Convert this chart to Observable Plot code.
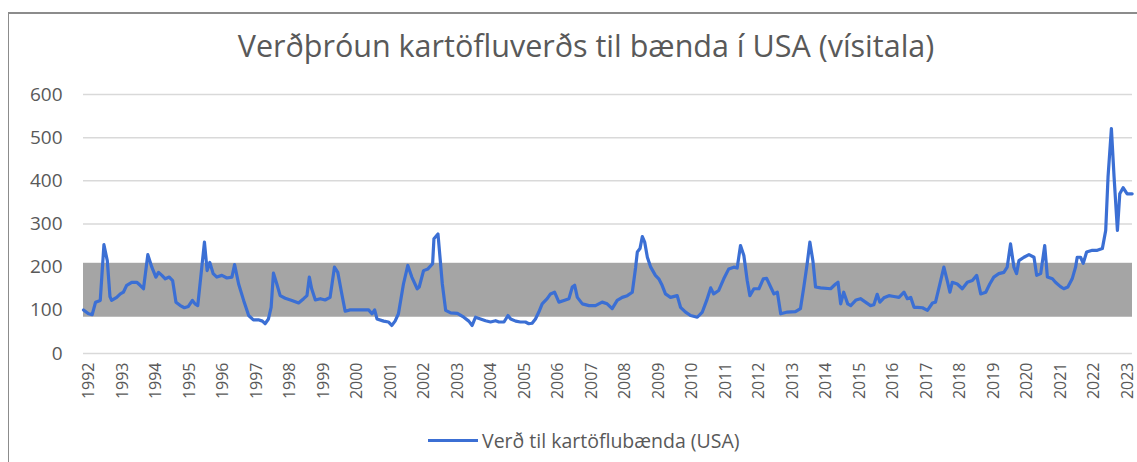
<!DOCTYPE html>
<html>
<head>
<meta charset="utf-8">
<script src="https://cdn.jsdelivr.net/npm/d3@7"></script>
<script src="https://cdn.jsdelivr.net/npm/@observablehq/plot@0.6"></script>
<style>
  html, body { margin: 0; padding: 0; background: #fff; }
  #wrap { position: relative; width: 1137px; height: 462px; overflow: hidden; font-family: "Open Sans", sans-serif; }
  #frameTop { position: absolute; left: 8px; top: 12px; width: 1129px; height: 0; border-top: 2px solid #8c8c8c; }
  #frameLeft { position: absolute; left: 8px; top: 12px; width: 0; height: 450px; border-left: 1px solid #8c8c8c; }
  #title { position: absolute; top: 24px; left: 586px; transform: translateX(-50%); white-space: nowrap;
           font-size: 30.5px; color: #595959; font-weight: 400; }
  #chart { position: absolute; left: 0; top: 0; }
  #legend { position: absolute; top: 427px; left: 428px; display: flex; align-items: center; font-size: 19.5px; color: #595959; white-space: nowrap; }
  #legend .sw { width: 50px; height: 3px; background: #3b6fd4; margin-right: 4px; }
</style>
</head>
<body>
<div id="wrap">
  <div id="frameTop"></div>
  <div id="frameLeft"></div>
  <div id="chart"></div>
  <div id="title">Verðþróun kartöfluverðs til bænda í USA (vísitala)</div>
  <div id="legend"><div class="sw"></div><span>Verð til kartöflubænda (USA)</span></div>
</div>
<script>
// decimal year of each reading
const dates = [
  1992.00,1992.15,1992.26,1992.36,1992.50,1992.61,1992.71,1992.79,1992.84,1992.99,
  1993.10,1993.19,1993.29,1993.44,1993.59,1993.69,1993.79,1993.92,
  1994.04,1994.16,1994.24,1994.34,1994.44,1994.56,1994.66,1994.76,1994.89,
  1995.01,1995.13,1995.25,1995.33,1995.41,1995.61,1995.69,1995.77,1995.87,1995.98,
  1996.13,1996.28,1996.43,1996.51,1996.63,1996.78,1996.93,
  1997.07,1997.22,1997.34,1997.42,1997.52,1997.60,1997.67,1997.77,1997.87,
  1998.02,1998.22,1998.42,1998.57,1998.67,1998.74,1998.81,1998.92,
  1999.07,1999.21,1999.36,1999.49,1999.59,1999.71,1999.81,1999.96,
  2000.21,2000.51,2000.61,2000.69,2000.76,2000.96,
  2001.10,2001.20,2001.30,2001.40,2001.55,2001.68,2001.80,2001.96,
  2002.02,2002.15,2002.28,2002.42,2002.46,2002.58,2002.71,2002.81,2002.96,
  2003.16,2003.35,2003.50,2003.60,2003.70,2003.85,
  2004.00,2004.15,2004.30,2004.40,2004.55,2004.67,2004.75,2004.90,
  2005.04,2005.19,2005.29,2005.39,2005.49,2005.59,2005.69,2005.84,2005.94,
  2006.06,2006.19,2006.34,2006.49,2006.59,2006.66,2006.74,2006.89,
  2007.09,2007.28,2007.48,2007.63,2007.78,2007.93,
  2008.08,2008.23,2008.38,2008.48,2008.53,2008.61,2008.68,2008.75,2008.83,2008.93,
  2009.07,2009.17,2009.27,2009.37,2009.52,2009.72,2009.82,2009.97,
  2010.12,2010.32,2010.47,2010.60,2010.72,2010.81,2010.96,
  2011.11,2011.26,2011.41,2011.51,2011.61,2011.71,2011.81,2011.89,
  2012.01,2012.16,2012.29,2012.39,2012.51,2012.61,2012.71,2012.81,
  2013.01,2013.25,2013.40,2013.50,2013.60,2013.68,2013.77,2013.85,
  2014.00,2014.30,2014.45,2014.52,2014.60,2014.69,2014.81,2014.90,
  2015.06,2015.19,2015.34,2015.49,2015.59,2015.69,2015.77,2015.89,
  2016.04,2016.19,2016.34,2016.49,2016.59,2016.69,2016.79,2016.89,
  2017.04,2017.19,2017.34,2017.43,2017.56,2017.68,2017.78,2017.86,2017.93,
  2018.08,2018.23,2018.38,2018.53,2018.66,2018.78,2018.93,
  2019.05,2019.17,2019.32,2019.47,2019.57,2019.67,2019.77,2019.85,2019.92,
  2020.07,2020.22,2020.37,2020.45,2020.57,2020.69,2020.77,2020.92,
  2021.01,2021.16,2021.26,2021.38,2021.51,2021.61,2021.66,2021.76,2021.84,2021.94,
  2022.11,2022.26,2022.41,2022.51,2022.58,2022.68,2022.76,2022.86,2022.93,
  2023.03,2023.15,2023.30
];
// index values
const values = [
  101,92,90,119,123,252,215,132,123,130,
  138,142,158,165,165,158,150,229,
  200,177,188,181,173,177,169,119,111,
  106,109,123,115,111,258,192,211,185,177,
  181,175,177,206,161,123,88,
  78,78,75,69,80,107,186,161,134,
  128,123,117,127,134,177,150,124,
  127,124,130,200,188,138,98,101,
  101,101,92,101,80,75,
  73,65,75,92,161,204,177,150,
  154,192,196,208,266,277,161,100,94,
  93,84,75,65,84,80,
  76,73,76,73,73,88,80,75,
  73,73,69,70,80,96,115,127,138,
  142,119,123,127,154,158,130,115,
  111,111,119,115,104,123,
  130,134,142,200,235,243,271,258,223,200,
  181,173,158,138,130,134,107,96,
  88,84,96,123,152,138,146,
  173,196,200,198,250,227,169,134,
  150,150,173,174,154,138,142,92,
  96,97,104,154,208,258,215,154,
  152,150,161,165,115,142,115,111,
  124,127,119,111,113,137,119,129,
  134,132,130,142,127,130,107,107,
  106,100,117,119,161,200,169,142,165,
  161,150,165,169,181,138,142,
  161,177,185,188,200,254,200,185,215,
  223,229,223,181,185,250,177,173,
  165,155,150,154,173,200,223,223,209,235,
  239,239,243,285,409,521,409,285,370,
  384,370,370
];
const yTicks = [0, 100, 200, 300, 400, 500, 600];
const years = d3.range(1992, 2024);
const band = { low: 84, high: 209 };
const labelOffset = 2 / 12;

const data = dates.map((t, i) => ({ t, v: values[i] }));
const xDomain = [1992, 2023.31];

const chart = Plot.plot({
  width: 1137,
  height: 410,
  marginTop: 94,
  marginBottom: 57,
  marginLeft: 83,
  marginRight: 5,
  style: { fontFamily: "'Open Sans', sans-serif", color: "#595959", background: "transparent", overflow: "visible" },
  x: { domain: xDomain, label: null },
  y: { domain: [0, 600], label: null },
  marks: [
    Plot.ruleY(yTicks, { stroke: "#d9d9d9", strokeWidth: 1.5 }),
    Plot.rect([band], { x1: () => xDomain[0], x2: () => xDomain[1], y1: d => d.low, y2: d => d.high, fill: "#a5a5a5" }),
    Plot.line(data, { x: "t", y: "v", stroke: "#3b6fd4", strokeWidth: 3.2, strokeLinejoin: "round", strokeLinecap: "round" }),
    Plot.axisY({ ticks: yTicks, tickSize: 0, tickPadding: 21, fontSize: 19, label: null }),
    Plot.axisX({ ticks: years.map(y => y + labelOffset), tickFormat: d => String(Math.round(d - labelOffset)),
                 tickRotate: -90, tickSize: 0, tickPadding: 9, fontSize: 16, label: null })
  ]
});
document.getElementById("chart").appendChild(chart);
</script>
</body>
</html>
